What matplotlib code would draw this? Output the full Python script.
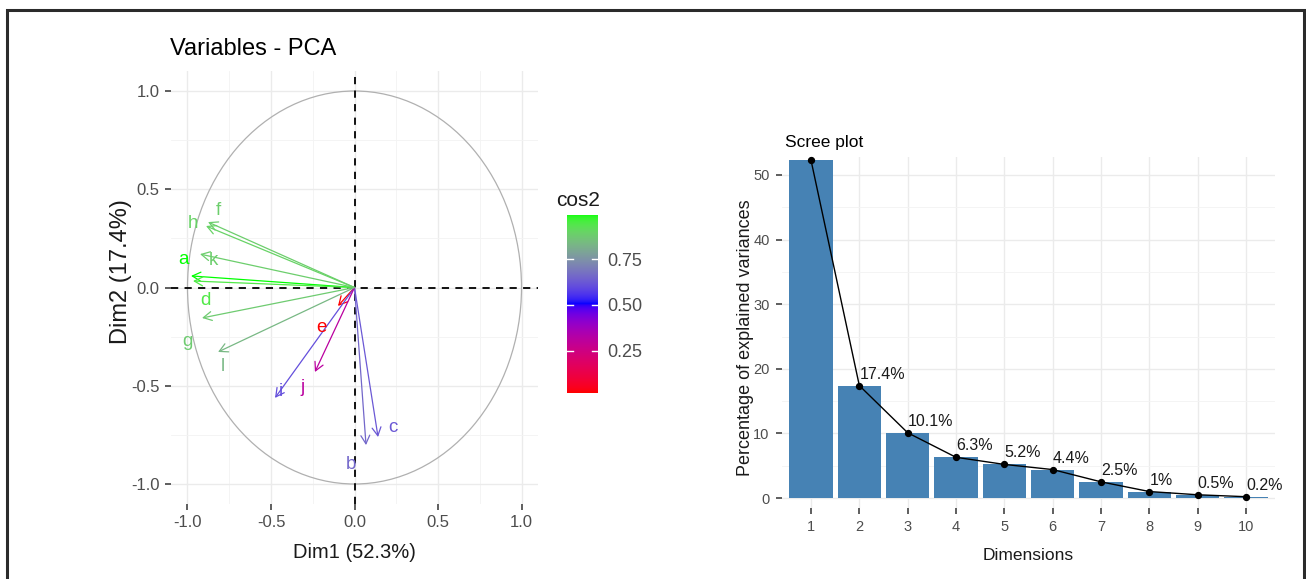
import numpy as np
import matplotlib
matplotlib.use("Agg")
import matplotlib.pyplot as plt
from matplotlib import font_manager as fm
from matplotlib.colors import ListedColormap, Normalize
from matplotlib.patches import Circle, Rectangle, FancyArrowPatch

# ---------------- data ----------------
var_names = ['a', 'b', 'c', 'd', 'e', 'f', 'g', 'h', 'i', 'j', 'k', 'l']
dim1 = [-0.979, 0.069, 0.141, -0.967, -0.099, -0.877, -0.913, -0.889, -0.476, -0.237, -0.925, -0.817]
dim2 = [0.059, -0.802, -0.761, 0.033, -0.094, 0.333, -0.155, 0.313, -0.562, -0.430, 0.170, -0.328]
cos2 = [0.99, 0.65, 0.62, 0.94, 0.02, 0.88, 0.87, 0.89, 0.60, 0.31, 0.88, 0.83]

dims = [1, 2, 3, 4, 5, 6, 7, 8, 9, 10]
explained = [52.3, 17.4, 10.1, 6.3, 5.2, 4.4, 2.5, 1.0, 0.5, 0.2]

dim1_title = 'Dim1 (52.3%)'
dim2_title = 'Dim2 (17.4%)'
cb_ticks = [0.25, 0.50, 0.75]

# label offsets (pixels) for the variable names (layout only)
label_offsets = {'a': (-8, 16), 'b': (-15, -19), 'c': (15, 10), 'd': (12, -19),
                 'e': (-17, -22), 'f': (10, 12), 'g': (-15, -24), 'h': (-13, 2),
                 'i': (6, 6), 'j': (-12, -16), 'k': (13, -6), 'l': (5, -15)}

# ---------------- fonts ----------------
avail = {f.name for f in fm.fontManager.ttflist}
REG = 'Liberation Sans' if 'Liberation Sans' in avail else 'DejaVu Sans'
NARROW = 'Liberation Sans Narrow' if 'Liberation Sans Narrow' in avail else REG
plt.rcParams['font.family'] = [REG, 'DejaVu Sans']

# ---------------- Lab colour gradient (red - blue - green) ----------------
M = np.array([[0.4124564, 0.3575761, 0.1804375],
              [0.2126729, 0.7151522, 0.0721750],
              [0.0193339, 0.1191920, 0.9503041]])
WHITE = np.array([0.95047, 1.0, 1.08883])


def srgb_to_lab(rgb):
    rgb = np.asarray(rgb, float)
    lin = np.where(rgb <= 0.04045, rgb / 12.92, ((rgb + 0.055) / 1.055) ** 2.4)
    t = (lin @ M.T) / WHITE
    d = 6 / 29
    f = np.where(t > d ** 3, np.cbrt(t), t / (3 * d * d) + 4 / 29)
    return np.stack([116 * f[..., 1] - 16, 500 * (f[..., 0] - f[..., 1]),
                     200 * (f[..., 1] - f[..., 2])], axis=-1)


def lab_to_srgb(lab):
    lab = np.asarray(lab, float)
    fy_ = (lab[..., 0] + 16) / 116
    fx_ = fy_ + lab[..., 1] / 500
    fz_ = fy_ - lab[..., 2] / 200
    f = np.stack([fx_, fy_, fz_], axis=-1)
    d = 6 / 29
    t = np.where(f > d, f ** 3, 3 * d * d * (f - 4 / 29))
    lin = (t * WHITE) @ np.linalg.inv(M).T
    lin = np.clip(lin, 0, 1)
    s = np.where(lin <= 0.0031308, 12.92 * lin, 1.055 * lin ** (1 / 2.4) - 0.055)
    return np.clip(s, 0, 1)


stops = srgb_to_lab(np.array([[1, 0, 0], [0, 0, 1], [0, 1, 0]], float))
pos = np.linspace(0, 1, 256)
seg = np.minimum((pos * 2).astype(int), 1)
frac = pos * 2 - seg
labs = stops[seg] * (1 - frac)[:, None] + stops[seg + 1] * frac[:, None]
cmap = ListedColormap(lab_to_srgb(labs))
norm = Normalize(vmin=min(cos2), vmax=max(cos2))

# ---------------- figure ----------------
W, H = 1306, 579
fig = plt.figure(figsize=(W / 100, H / 100), dpi=100)


def fx(px):
    return px / W


def fy(py):
    return 1 - py / H


TICK_C = '#333333'
LAB_C = '#4D4D4D'
GRID_C = '#EBEBEB'

# ---------- PCA variables panel ----------
cx, cy, sx, sy = 354.5, 287.5, 167.0, 196.5
ax1 = fig.add_axes([fx(cx - 1.1 * sx), fy(cy + 1.1 * sy), 2.2 * sx / W, 2.2 * sy / H])
ax1.set_xlim(-1.1, 1.1)
ax1.set_ylim(-1.1, 1.1)
major = [-1.0, -0.5, 0.0, 0.5, 1.0]
minor = [-0.75, -0.25, 0.25, 0.75]
ax1.set_xticks(major)
ax1.set_yticks(major)
ax1.set_xticks(minor, minor=True)
ax1.set_yticks(minor, minor=True)
ax1.set_xticklabels([f'{v:.1f}' for v in major])
ax1.set_yticklabels([f'{v:.1f}' for v in major])
ax1.grid(True, which='major', color=GRID_C, lw=1.0)
ax1.grid(True, which='minor', color='#F3F3F3', lw=0.6)
ax1.set_axisbelow(True)
for s in ax1.spines.values():
    s.set_visible(False)
ax1.tick_params(which='major', length=4, width=1.1, color=TICK_C, labelcolor=LAB_C,
                labelsize=12, pad=4)
ax1.tick_params(which='minor', length=0)
for t in ax1.get_xticklabels() + ax1.get_yticklabels():
    t.set_fontfamily(NARROW)

ax1.add_patch(Circle((0, 0), 1.0, fill=False, ec='#B0B0B0', lw=0.9, zorder=1))
ax1.axhline(0, color='black', lw=1.3, ls=(0, (4, 3.5)), zorder=2)
ax1.axvline(0, color='black', lw=1.3, ls=(0, (4, 3.5)), zorder=2)

for name, x, y, c in zip(var_names, dim1, dim2, cos2):
    col = cmap(norm(c))
    arr = FancyArrowPatch((0, 0), (x, y), arrowstyle='->,head_length=0.6,head_width=0.32',
                          mutation_scale=10, lw=0.9, color=col, shrinkA=0, shrinkB=0,
                          zorder=3)
    ax1.add_patch(arr)
    ox, oy = label_offsets[name]
    ax1.annotate(name, (x, y), xytext=(ox, oy), textcoords='offset pixels',
                 ha='center', va='center', color=col, fontsize=13.5, fontfamily=NARROW,
                 zorder=4)

fig.text(fx(170), fy(55), 'Variables - PCA', ha='left', va='baseline', fontsize=17,
         color='black')
fig.text(fx(354.5), fy(558), dim1_title, ha='center', va='baseline', fontsize=14.5,
         fontfamily=NARROW, color='#1A1A1A')
fig.text(fx(121), fy(272), dim2_title, ha='center', va='center', rotation=90,
         fontsize=17, color='#1A1A1A')

# ---------- colourbar ----------
cax = fig.add_axes([fx(567), fy(393), 31 / W, 178 / H])
grad = np.linspace(norm.vmin, norm.vmax, 256).reshape(-1, 1)
cax.imshow(grad, cmap=cmap, norm=norm, aspect='auto', origin='lower',
           extent=(0, 1, norm.vmin, norm.vmax))
cax.set_xlim(0, 1)
cax.set_ylim(norm.vmin, norm.vmax)
cax.set_xticks([])
for s in cax.spines.values():
    s.set_visible(False)
cax.yaxis.tick_right()
cax.set_yticks(cb_ticks)
cax.set_yticklabels([f'{v:.2f}' for v in cb_ticks])
cax.tick_params(axis='y', length=0, pad=7, labelsize=13, labelcolor=LAB_C)
for t in cax.get_yticklabels():
    t.set_fontfamily(NARROW)
for v in cb_ticks:
    cax.plot([0, 0.2], [v, v], color='white', lw=1.0)
    cax.plot([0.8, 1], [v, v], color='white', lw=1.0)
fig.text(fx(556), fy(206), 'cos2', ha='left', va='baseline', fontsize=15,
         fontfamily=NARROW, color='#1A1A1A')

# ---------- scree plot ----------
y0px, yscale = 498.0, 6.46
ylo, yhi = -1.5, 52.8
ax2 = fig.add_axes([fx(782), fy(y0px - ylo * yscale), 493 / W, (yhi - ylo) * yscale / H])
ax2.set_xlim(0.4, 10.6)
ax2.set_ylim(ylo, yhi)
ax2.bar(dims, explained, width=0.9, color='#4682B4', edgecolor='none', zorder=2)
ax2.plot(dims, explained, color='black', lw=1.0, zorder=3)
ax2.scatter(dims, explained, s=18, color='black', zorder=4, clip_on=False)
# the first label falls outside the panel in the reference, so it is not shown
for x, v in zip(dims[1:], explained[1:]):
    ax2.annotate(f'{v:g}%', (x, v), xytext=(0, 4), textcoords='offset pixels',
                 ha='left', va='bottom', fontsize=11.5, fontfamily=NARROW,
                 color='#1A1A1A', zorder=5, annotation_clip=False)
ax2.set_xticks(dims)
ax2.set_xticklabels([str(d) for d in dims])
ax2.set_yticks([0, 10, 20, 30, 40, 50])
ax2.set_yticks([5, 15, 25, 35, 45], minor=True)
ax2.grid(True, which='major', color=GRID_C, lw=1.0)
ax2.grid(True, which='minor', axis='y', color='#F3F3F3', lw=0.6)
ax2.set_axisbelow(True)
for s in ax2.spines.values():
    s.set_visible(False)
ax2.tick_params(which='major', length=4, width=1.1, color=TICK_C, labelcolor=LAB_C,
                labelsize=10.5, pad=5)
ax2.tick_params(which='minor', length=0)
for t in ax2.get_xticklabels() + ax2.get_yticklabels():
    t.set_fontfamily(NARROW)

fig.text(fx(785), fy(147), 'Scree plot', ha='left', va='baseline', fontsize=12.5,
         color='black')
fig.text(fx(1028), fy(560), 'Dimensions', ha='center', va='baseline', fontsize=12.5,
         fontfamily=NARROW, color='#1A1A1A')
fig.text(fx(745), fy(338), 'Percentage of explained variances', ha='center', va='center',
         rotation=90, fontsize=13, color='#1A1A1A')

# ---------- outer frame ----------
fig.add_artist(Rectangle((fx(7), fy(590)), fx(1304) - fx(7), fy(10) - fy(590),
                         transform=fig.transFigure, fill=False, ec='#2B2B2B', lw=2.2))

fig.savefig('out.png', dpi=100)
